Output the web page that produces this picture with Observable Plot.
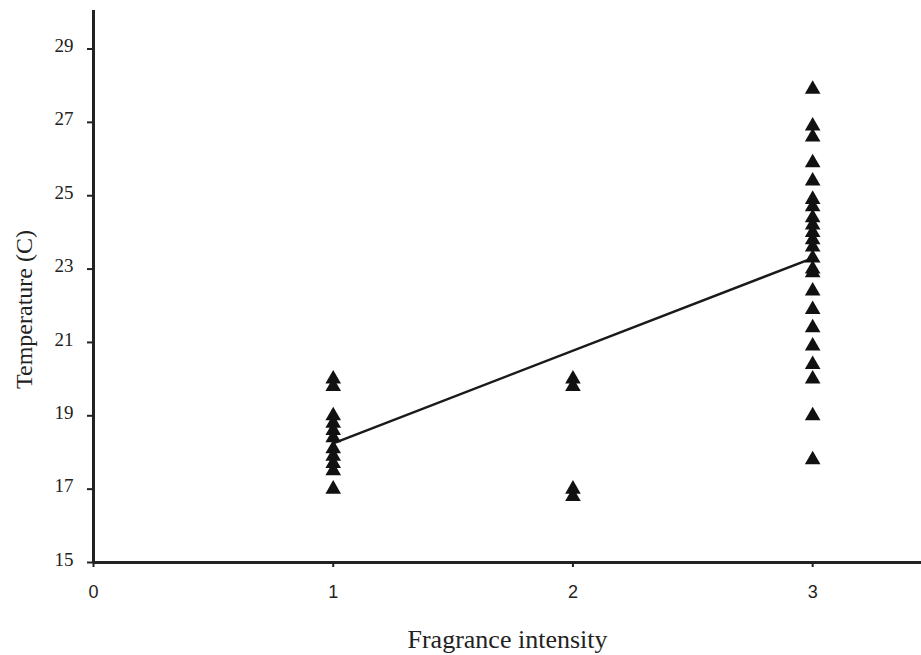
<!DOCTYPE html>
<html><head><meta charset="utf-8">
<script src="https://cdn.jsdelivr.net/npm/d3@7"></script>
<script src="https://cdn.jsdelivr.net/npm/@observablehq/plot@0.6"></script>
<style>body{margin:0;background:#fff}</style>
</head><body><div id="chart"></div>
<script>
// Temperatures (C) observed at each fragrance intensity
const tempsAt1 = [20.0, 19.8, 19.0, 18.8, 18.6, 18.4, 18.1, 17.9, 17.7, 17.5, 17.0];
const tempsAt2 = [20.0, 19.8, 17.0, 16.8];
const tempsAt3 = [27.9, 26.9, 26.6, 25.9, 25.4, 24.9, 24.7, 24.4, 24.2, 24.0, 23.8, 23.6, 23.3, 23.0, 22.9, 22.4, 21.9, 21.4, 20.9, 20.4, 20.0, 19.0, 17.8];
// Fitted line end points
const fitX = [1, 3];
const fitY = [18.25, 23.3];
const xTicks = [0, 1, 2, 3];
const yTicks = [15, 17, 19, 21, 23, 25, 27, 29];
const xTitle = "Fragrance intensity";
const yTitle = "Temperature (C)";

const points = [
  ...tempsAt1.map(t => ({x: 1, y: t})),
  ...tempsAt2.map(t => ({x: 2, y: t})),
  ...tempsAt3.map(t => ({x: 3, y: t}))
];
const fit = fitX.map((x, i) => ({x, y: fitY[i]}));

const chart = Plot.plot({
  width: 921,
  height: 655,
  marginLeft: 93,
  marginRight: 0,
  marginTop: 10,
  marginBottom: 93,
  x: {domain: [0, 3.454]},
  y: {domain: [15, 30.05]},
  style: {fontFamily: "'Liberation Serif', 'Times New Roman', serif", background: "white", color: "#222"},
  marks: [
    Plot.axisX({ticks: xTicks, tickFormat: d3.format("d"), tickSize: 5, tickPadding: 18, fontSize: 18, fontFamily: "'Liberation Sans', Arial, sans-serif", label: null, stroke: "#222", strokeWidth: 2}),
    Plot.axisY({ticks: yTicks, tickFormat: () => "", tickSize: 6, label: null, stroke: "#222", strokeWidth: 2}),
    Plot.axisY({ticks: yTicks, tickFormat: d3.format("d"), tickSize: 0, tickPadding: 20, fontSize: 19, dy: -3, label: null}),
    Plot.ruleY([15], {stroke: "#222", strokeWidth: 3}),
    Plot.ruleX([0], {stroke: "#222", strokeWidth: 3}),
    Plot.line(fit, {x: "x", y: "y", stroke: "#1a1a1a", strokeWidth: 2.5}),
    Plot.dot(points, {x: "x", y: "y", symbol: "triangle", r: 5.8, fill: "#111", stroke: null}),
    Plot.text([xTitle], {frameAnchor: "bottom", lineAnchor: "middle", dy: 77, fontSize: 26, fill: "#222"}),
    Plot.text([yTitle], {frameAnchor: "left", rotate: -90, dx: -69, dy: 23, lineAnchor: "middle", textAnchor: "middle", fontSize: 24, fill: "#222"})
  ]
});
document.getElementById("chart").appendChild(chart);
</script>
</body></html>
